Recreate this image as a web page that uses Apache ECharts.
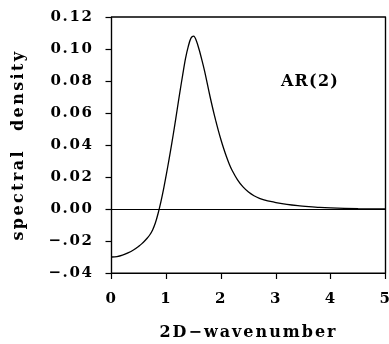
<!DOCTYPE html>
<html><head><meta charset="utf-8">
<script src="https://cdn.jsdelivr.net/npm/echarts@6/dist/echarts.min.js"></script>
<style>html,body{margin:0;padding:0;background:#fff;overflow:hidden}#c{width:389px;height:344px}</style>
</head><body><div id="c"></div>
<script>
const wavenumber = [0,0.1,0.2,0.3,0.4,0.5,0.55,0.6,0.65,0.7,0.75,0.8,0.85,0.9,0.95,1.0,1.05,1.1,1.15,1.2,1.25,1.3,1.35,1.4,1.45,1.5,1.55,1.6,1.65,1.7,1.75,1.8,1.85,1.9,1.95,2.0,2.05,2.1,2.15,2.2,2.3,2.4,2.5,2.6,2.7,2.8,2.9,3.0,3.2,3.4,3.6,3.8,4.0,4.5,5.0];
const density = [-0.0300,-0.0297,-0.0288,-0.0274,-0.0256,-0.0232,-0.0218,-0.0202,-0.0183,-0.0161,-0.0131,-0.0088,-0.0028,0.0043,0.0124,0.0215,0.0310,0.0410,0.0515,0.0625,0.0735,0.0840,0.0940,0.1015,0.1068,0.1080,0.1050,0.0995,0.0930,0.0860,0.0780,0.0700,0.0625,0.0555,0.0490,0.0430,0.0375,0.0325,0.0280,0.0242,0.0182,0.0138,0.0106,0.0083,0.0067,0.0056,0.0047,0.0040,0.0029,0.0021,0.0015,0.0010,0.0007,0.0002,0.0];
const xRange = [0, 5];
const yRange = [-0.04, 0.12];
const yTickLabels = {"0.12":"0.12","0.1":"0.10","0.08":"0.08","0.06":"0.06","0.04":"0.04","0.02":"0.02","0":"0.00","-0.02":"\u2212.02","-0.04":"\u2212.04"};
const labelText = "AR(2)";
const xTitle = "2D\u2212wavenumber";
const yTitle = "spectral density";

// widen letter spacing of drawn text to match the reference typography
(function () {
  const proto = CanvasRenderingContext2D.prototype;
  const orig = proto.fillText;
  proto.fillText = function (text, x, y, maxW) {
    const prevL = this.letterSpacing, prevW = this.wordSpacing;
    let ls = '1.6px', ws = '0px';
    if (text === xTitle) ls = '2px';
    else if (text === yTitle) { ls = '2.4px'; ws = '10px'; }
    else if (text === labelText) ls = '1.2px';
    this.letterSpacing = ls; this.wordSpacing = ws;
    const r = maxW === undefined ? orig.call(this, text, x, y) : orig.call(this, text, x, y, maxW);
    this.letterSpacing = prevL; this.wordSpacing = prevW;
    return r;
  };
})();

const font = "'DejaVu Serif', serif";
const chart = echarts.init(document.getElementById('c'));
chart.setOption({
  animation: false,
  grid: {left: 111.5, right: 3.5, top: 17, bottom: 71, outerBoundsMode: 'none', containLabel: false,
    show: true, borderColor: '#000', borderWidth: 1.2, backgroundColor: 'transparent'},
  xAxis: {
    type: 'value', min: xRange[0], max: xRange[1], interval: 1,
    axisLine: {onZero: false, lineStyle: {color: '#000', width: 1.2}},
    axisTick: {show: true, length: 6, lineStyle: {color: '#000', width: 1.2}},
    splitLine: {show: false},
    axisLabel: {color: '#000', fontFamily: font, fontWeight: 'bold', fontSize: 15, margin: 19},
    name: xTitle, nameLocation: 'middle', nameGap: 52,
    nameTextStyle: {color: '#000', fontFamily: font, fontWeight: 'bold', fontSize: 16}
  },
  yAxis: {
    type: 'value', min: yRange[0], max: yRange[1], interval: 0.02,
    axisLine: {onZero: false, lineStyle: {color: '#000', width: 1.2}},
    axisTick: {show: true, length: 6, lineStyle: {color: '#000', width: 1.2}},
    splitLine: {show: false},
    axisLabel: {color: '#000', fontFamily: font, fontWeight: 'bold', fontSize: 15, margin: 18,
      formatter: v => yTickLabels[String(Math.round(v*100)/100)] ?? v},
    name: yTitle, nameLocation: 'middle', nameGap: 85,
    nameTextStyle: {color: '#000', fontFamily: font, fontWeight: 'bold', fontSize: 16}
  },
  graphic: [{type: 'text', left: 281, top: 74, style: {text: labelText, fill: '#000', font: "bold 16px 'DejaVu Serif', serif"}}],
  series: [{
    type: 'line', smooth: 0.3, symbol: 'none',
    data: wavenumber.map((x, i) => [x, density[i]]),
    lineStyle: {color: '#000', width: 1.3},
    markLine: {silent: true, symbol: 'none', label: {show: false},
      lineStyle: {color: '#000', width: 1.2, type: 'solid'}, data: [{yAxis: 0}]}
  }, {
    type: 'line', symbol: 'none', clip: false, silent: true, z: 1,
    data: [[xRange[0], yRange[1]], [xRange[1], yRange[1]], [xRange[1], yRange[0]]],
    lineStyle: {color: '#000', width: 1.2}
  }]
});
</script></body></html>
